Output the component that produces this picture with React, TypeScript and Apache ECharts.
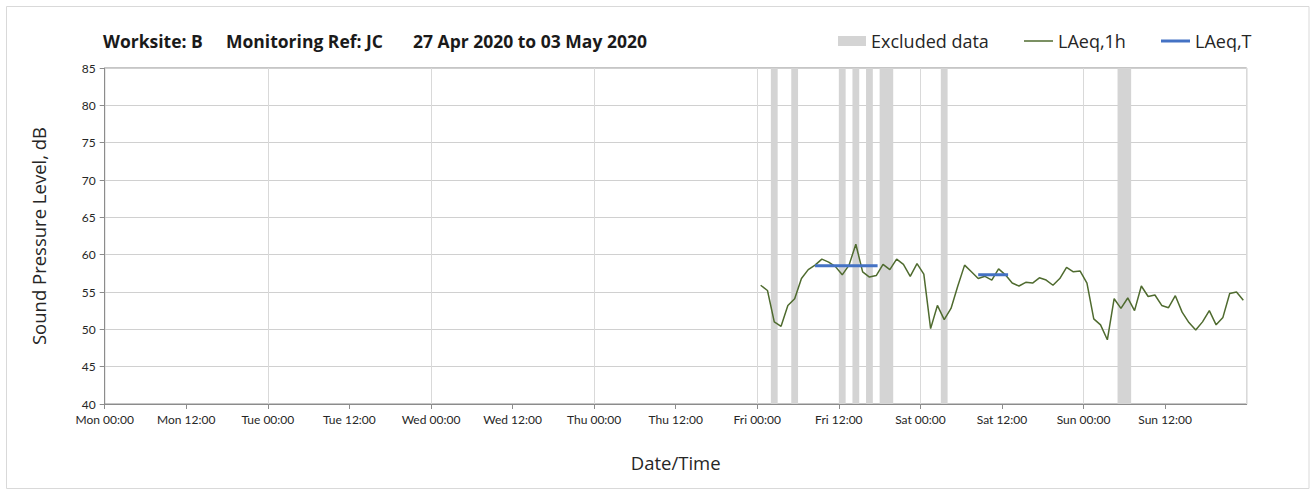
import React, { useEffect, useRef } from "react";
import * as echarts from "echarts";

// ---- data ----
const dayNames = ["Mon", "Tue", "Wed", "Thu", "Fri", "Sat", "Sun"];
const titleParts = ["Worksite: B", "Monitoring Ref: JC", "27 Apr 2020 to 03 May 2020"];

// hours since Mon 00:00, hourly LAeq values from Fri 00:30 onwards
const firstHour = 96.5;
const laeq1h = [
  55.9, 55.2, 51.0, 50.4, 53.2, 54.1, 56.8, 58.0, 58.6, 59.4, 59.0, 58.4,
  57.3, 58.6, 61.4, 57.7, 57.0, 57.2, 58.7, 58.0, 59.4, 58.7, 57.1, 58.8,
  57.4, 50.1, 53.2, 51.3, 52.8, 55.8, 58.6, 57.7, 56.8, 57.1, 56.6, 58.1,
  57.3, 56.2, 55.8, 56.3, 56.2, 56.9, 56.6, 55.9, 56.8, 58.3, 57.7, 57.8,
  56.2, 51.4, 50.6, 48.6, 54.1, 52.8, 54.2, 52.5, 55.8, 54.4, 54.6, 53.2,
  52.9, 54.5, 52.3, 50.9, 49.9, 51.0, 52.5, 50.6, 51.6, 54.8, 55.0, 53.9,
];

// LAeq,T periods: [startHour, endHour, level]
const laeqT = [
  [104.5, 113.7, 58.5],
  [128.5, 132.9, 57.3],
];

// excluded data periods: [startHour, endHour]
const excluded = [
  [98, 99],
  [101, 102],
  [108, 109],
  [110, 111],
  [112, 113],
  [114, 116],
  [123, 124],
  [149, 151],
];

const yMin = 40;
const yMax = 85;

const FONT = "Lato, 'Noto Sans', sans-serif";
const WIDE = "'Open Sans', 'Noto Sans', sans-serif";

export default function App() {
  const ref = useRef<HTMLDivElement>(null);

  useEffect(() => {
    if (!ref.current) return;
    const chart = echarts.init(ref.current, null, { renderer: "svg" });

    const lineData = laeq1h.map((v, i) => [firstHour + i, v]);
    const tData: any[] = [];
    laeqT.forEach((p, i) => {
      if (i > 0) tData.push([(p[0] + laeqT[i - 1][1]) / 2, "-"]);
      tData.push([p[0], p[2]]);
      tData.push([p[1], p[2]]);
    });

    const legendText = { fontSize: 18, color: "#262626", fontFamily: WIDE };
    const titleFont = `bold 17.5px ${WIDE}`;

    const option: any = {
      animation: false,
      backgroundColor: "#ffffff",
      textStyle: { fontFamily: FONT },
      grid: {
        left: 104.7,
        right: 64.3,
        top: 68,
        bottom: 91,
        show: true,
        borderColor: "#8c8c8c",
        borderWidth: 1,
        backgroundColor: "transparent",
      },
      graphic: [
        {
          type: "rect",
          shape: { x: 6.5, y: 6.5, width: 1302.5, height: 482 },
          style: { fill: "none", stroke: "#d9d9d9", lineWidth: 1 },
          silent: true,
          z: -10,
        },
        {
          type: "text",
          x: 103,
          y: 41,
          style: { text: titleParts[0], font: titleFont, fill: "#1a1a1a", verticalAlign: "middle" },
        },
        {
          type: "text",
          x: 226,
          y: 41,
          style: { text: titleParts[1], font: titleFont, fill: "#1a1a1a", verticalAlign: "middle" },
        },
        {
          type: "text",
          x: 413,
          y: 41,
          style: { text: titleParts[2], font: titleFont, fill: "#1a1a1a", verticalAlign: "middle" },
        },
      ],
      legend: [
        {
          data: [{ name: "Excluded data", icon: "rect" }],
          left: 838,
          top: 32,
          padding: 0,
          itemWidth: 28,
          itemHeight: 10,
          textStyle: legendText,
        },
        {
          data: [{ name: "LAeq,1h", icon: "rect" }],
          left: 1024,
          top: 32,
          padding: 0,
          itemWidth: 29,
          itemHeight: 1.5,
          textStyle: legendText,
        },
        {
          data: [{ name: "LAeq,T", icon: "rect" }],
          left: 1161,
          top: 32,
          padding: 0,
          itemWidth: 29,
          itemHeight: 3,
          textStyle: legendText,
        },
      ],
      xAxis: [
        {
          type: "value",
          min: 0,
          max: 168,
          interval: 12,
          name: "Date/Time",
          nameLocation: "middle",
          nameGap: 49,
          nameTextStyle: { fontSize: 18.5, color: "#262626", fontFamily: WIDE },
          axisLine: { show: true, lineStyle: { color: "#8c8c8c", width: 1 } },
          axisTick: { show: true, length: 5, lineStyle: { color: "#8c8c8c" } },
          axisLabel: {
            margin: 9,
            fontSize: 12,
            color: "#262626",
            fontFamily: FONT,
            showMaxLabel: false,
            formatter: (v: number) => {
              const d = Math.floor(v / 24);
              if (d >= dayNames.length) return "";
              const h = Math.round(v - d * 24);
              return `${dayNames[d]} ${String(h).padStart(2, "0")}:00`;
            },
          },
          splitLine: { show: false },
        },
        {
          type: "value",
          min: 0,
          max: 168,
          interval: 24,
          position: "bottom",
          axisLine: { show: false },
          axisTick: { show: false },
          axisLabel: { show: false },
          splitLine: { show: true, lineStyle: { color: "#d9d9d9", width: 1 } },
        },
      ],
      yAxis: {
        type: "value",
        min: yMin,
        max: yMax,
        interval: 5,
        name: "Sound Pressure Level, dB",
        nameLocation: "middle",
        nameGap: 57,
        nameTextStyle: { fontSize: 18.5, color: "#262626", fontFamily: WIDE },
        axisLine: { show: true, lineStyle: { color: "#8c8c8c", width: 1 } },
        axisTick: { show: true, length: 5, lineStyle: { color: "#8c8c8c" } },
        axisLabel: { margin: 9, fontSize: 12, color: "#262626", fontFamily: FONT },
        splitLine: { show: true, lineStyle: { color: "#d0d0d0", width: 1 } },
      },
      series: [
        {
          name: "Excluded data",
          type: "custom",
          xAxisIndex: 0,
          data: excluded,
          encode: { x: [0, 1] },
          itemStyle: { color: "#d4d4d4" },
          renderItem: (params: any, api: any) => {
            const s = api.coord([api.value(0), yMax]);
            const e = api.coord([api.value(1), yMin]);
            return {
              type: "rect",
              shape: { x: s[0], y: s[1], width: e[0] - s[0], height: e[1] - s[1] },
              style: { fill: "#d4d4d4" },
            };
          },
          z: 1,
        },
        {
          name: "LAeq,1h",
          type: "line",
          xAxisIndex: 0,
          data: lineData,
          symbol: "none",
          color: "#4f6b2f",
          lineStyle: { color: "#4f6b2f", width: 1.5 },
          z: 3,
        },
        {
          name: "LAeq,T",
          type: "line",
          xAxisIndex: 0,
          data: tData,
          symbol: "none",
          connectNulls: false,
          color: "#4472c4",
          lineStyle: { color: "#4472c4", width: 3 },
          z: 4,
        },
      ],
    };

    chart.setOption(option);
    return () => chart.dispose();
  }, []);

  return (
    <div
      ref={ref}
      style={{ position: "fixed", left: 0, top: 0, width: 1311, height: 495, background: "#fff" }}
    />
  );
}
